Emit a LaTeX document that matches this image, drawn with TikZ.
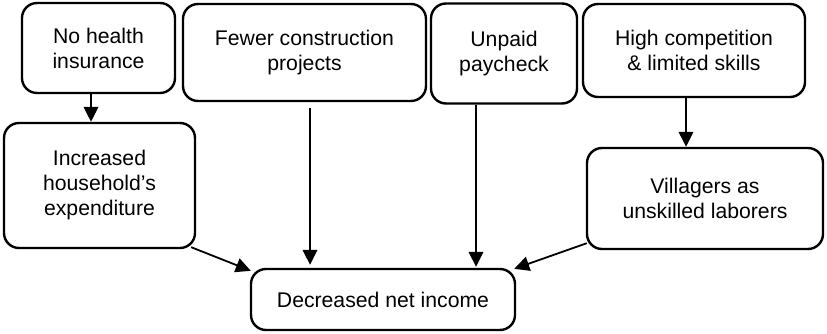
\documentclass[tikz,border=0pt]{standalone}
\usepackage{fontspec}
\setmainfont{Liberation Sans}
\usetikzlibrary{arrows.meta,calc}
\begin{document}
\begin{tikzpicture}[x=1pt,y=-1pt,
  box/.style={draw,line width=2.4pt,rounded corners=15pt,inner sep=0pt,
    align=center,font=\fontsize{21.2}{25}\selectfont},
  arr/.style={line width=1.8pt,-{Triangle[length=15pt,width=14.5pt]}}]
\useasboundingbox (0,0) rectangle (827,334);
% causes in the top row
\node[box,minimum width=153pt,minimum height=90pt]  (b1) at (98.5,48)  {No health\\insurance};
\node[box,minimum width=243pt,minimum height=97pt]  (b2) at (304.5,52.5) {Fewer construction\\projects};
\node[box,minimum width=146pt,minimum height=100pt] (b3) at (504,53.5) {Unpaid\\paycheck};
\node[box,minimum width=222pt,minimum height=93pt]  (b4) at (694,50.5) {High competition\\\& limited skills};
% intermediate effects
\node[box,minimum width=191pt,minimum height=125pt] (b5) at (99.5,185.5) {Increased\\household’s\\expenditure};
\node[box,minimum width=236pt,minimum height=101pt] (b6) at (705,198.5) {Villagers as\\unskilled laborers};
% final outcome
\node[box,minimum width=264pt,minimum height=61pt]  (b7) at (383,299.5) {Decreased net income};
% connectors
\draw[arr] ([xshift=-7.5pt]b1.south) -- ([xshift=-7.5pt]b1.south |- b5.north);
\draw[arr] ([xshift=-8pt]b4.south) -- ([xshift=-8pt]b4.south |- b6.north);
\draw[arr] ($(b2.south)+(5.5,6)$) -- ($(b7.north)+(-73,-3)$);
\draw[arr] ([xshift=-28pt]b3.south) -- ($(b7.north)+(93,-1)$);
\draw[arr] ($(b5.south east)+(-5,-2)$) -- ($(b7.north west)+(1,3)$);
\draw[arr] ($(b6.south west)+(1,-7)$) -- ($(b7.north east)+(-2,1)$);
\end{tikzpicture}
\end{document}
